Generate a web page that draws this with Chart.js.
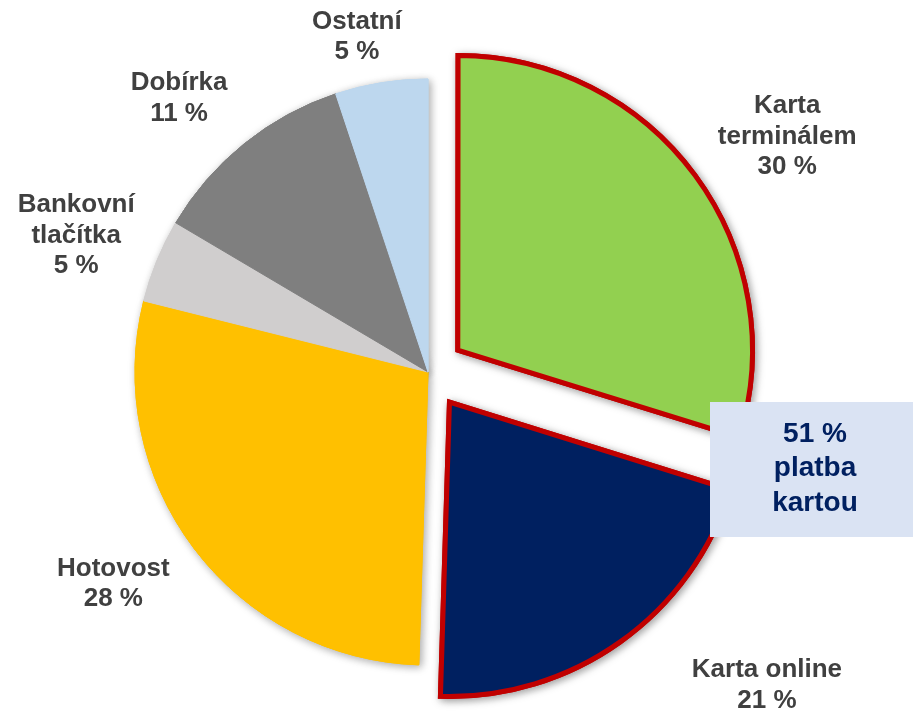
<!DOCTYPE html>
<html lang="cs">
<head>
<meta charset="utf-8">
<title>Způsoby platby</title>
<script src="https://cdn.jsdelivr.net/npm/chart.js@4/dist/chart.umd.min.js"></script>
<style>
  html, body { margin: 0; padding: 0; background: #fff; }
  #wrap { width: 913px; height: 711px; position: relative; }
</style>
</head>
<body>
<div id="wrap"><canvas id="c" width="913" height="711"></canvas></div>
<script>
// Podíl způsobů platby (v %), po směru hodinových ručiček od 12 hodin
const categories = [['Karta', 'terminálem'], ['Karta online'], ['Hotovost'], ['Bankovní', 'tlačítka'], ['Dobírka'], ['Ostatní']];
const shares = [29.8, 20.7, 28.4, 4.6, 11.4, 5.1];
const sliceColors = ['#92d050', '#002060', '#ffc000', '#d0cece', '#7f7f7f', '#bdd7ee'];
const highlighted = [true, true, false, false, false, false];
const cardNote = ['51 %', 'platba', 'kartou'];

// label placement: angle shift from slice middle (deg) and distance in radii
const labelLayout = [[3.1, 1.466], [-11.8, 1.575], [3.1, 1.295], [-1.1, 1.288], [-3.4, 1.263], [-2.8, 1.169]];

const labelFont = 'bold 26px "Liberation Sans", Arial, sans-serif';

// soft shadow under the pie, drawn once before the slices
const shadowPlugin = {
    id: 'pieShadow',
    beforeDatasetsDraw(chart) {
        const ctx = chart.ctx;
        const meta = chart.getDatasetMeta(0);
        ctx.save();
        ctx.shadowColor = 'rgba(0,0,0,0.35)';
        ctx.shadowBlur = 9;
        ctx.shadowOffsetX = 2;
        ctx.shadowOffsetY = 2;
        meta.data.forEach(arc => arc.draw(ctx));
        ctx.restore();
    }
};

const labelsPlugin = {
    id: 'sliceLabels',
    afterDatasetsDraw(chart) {
        const ctx = chart.ctx;
        const meta = chart.getDatasetMeta(0);
        ctx.save();
        ctx.font = labelFont;
        ctx.fillStyle = '#404040';
        ctx.textAlign = 'center';
        ctx.textBaseline = 'middle';
        meta.data.forEach((arc, i) => {
            const p = arc.getProps(['x', 'y', 'startAngle', 'endAngle', 'outerRadius'], true);
            const mid = (p.startAngle + p.endAngle) / 2;
            const a = mid + labelLayout[i][0] * Math.PI / 180;
            const r = p.outerRadius * labelLayout[i][1];
            const lx = p.x + Math.cos(a) * r;
            const ly = p.y + Math.sin(a) * r;
            const lines = categories[i].concat([Math.round(shares[i]) + ' %']);
            const lh = 30.5;
            lines.forEach((t, k) => {
                ctx.fillText(t, lx, ly + (k - (lines.length - 1) / 2) * lh);
            });
        });

        // callout box with the card total
        const bx = 710, by = 402, bw = chart.width - bx, bh = 135;
        ctx.fillStyle = '#dae3f3';
        ctx.fillRect(bx, by, bw, bh);
        ctx.fillStyle = '#002060';
        ctx.font = 'bold 28px "Liberation Sans", Arial, sans-serif';
        cardNote.forEach((t, k) => {
            ctx.fillText(t, 815, by + 32 + k * 34.5);
        });
        ctx.restore();
    }
};

new Chart(document.getElementById('c'), {
    type: 'pie',
    data: {
        labels: categories.map(c => c.join(' ')),
        datasets: [{
            data: shares,
            backgroundColor: sliceColors,
            borderColor: sliceColors.map((c, i) => highlighted[i] ? '#c00000' : c),
            borderWidth: highlighted.map(h => h ? 5 : 1),
            borderJoinStyle: 'miter',
            // Chart.js v4 draws a quarter of this as the explode distance
            offset: highlighted.map(h => h ? 148 : 0),
            radius: 293
        }]
    },
    options: {
        responsive: false,
        animation: false,
        layout: { padding: { left: 0, right: 57, top: 33, bottom: 0 } },
        plugins: {
            legend: { display: false },
            tooltip: { enabled: false }
        }
    },
    plugins: [shadowPlugin, labelsPlugin]
});
</script>
</body>
</html>
